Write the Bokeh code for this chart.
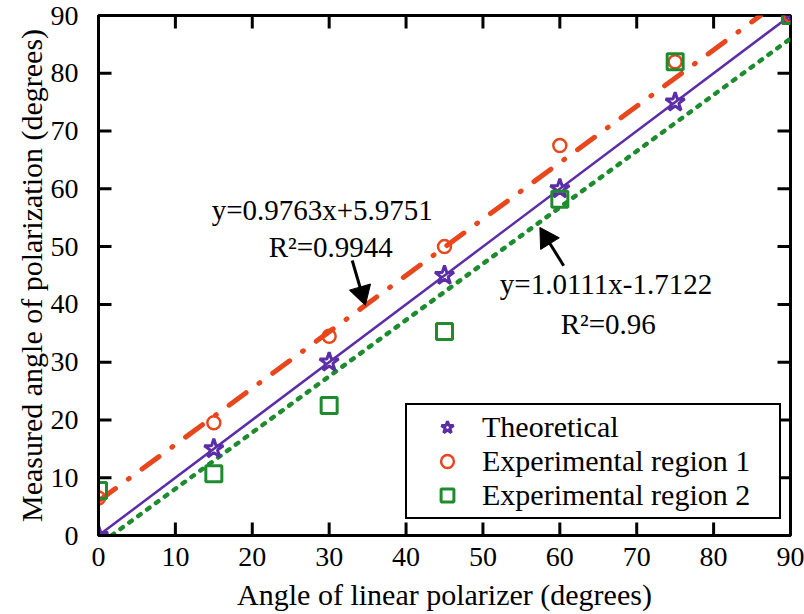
import math
from bokeh.plotting import figure
from bokeh.models import Legend, LegendItem, FixedTicker, Range1d
from bokeh.core.properties import value
from bokeh.embed import file_html
from bokeh.resources import INLINE

# ---- data ----
angles = [0, 15, 30, 45, 60, 75, 90]
theoretical = [0, 15, 30, 45, 60, 75, 90]
region1 = [6.5, 19.5, 34.5, 50.0, 67.5, 82.0, 90.0]
region2 = [7.8, 10.7, 22.5, 35.3, 58.2, 82.0, 90.0]

theo_line_x = [0, 90]
theo_line_y = [0, 90]
fit1_x = [0, 86.1]
fit1_y = [5.9751, 90]
fit2_x = [1.7, 90]
fit2_y = [0, 86.0]

ticks = [0, 10, 20, 30, 40, 50, 60, 70, 80, 90]

ann_text = ["y=0.9763x+5.9751", "R\u00b2=0.9944", "y=1.0111x-1.7122", "R\u00b2=0.96"]
ann_x = [29.1, 30.2, 66.0, 66.3]
ann_y = [56.4, 50.0, 43.6, 36.6]

arrow_x0 = [33.0, 60.5]
arrow_y0 = [47.6, 46.7]
arrow_x1 = [34.6, 57.6]
arrow_y1 = [40.3, 52.9]

PURPLE = "#5B2DA6"
RED = "#E8461C"
GREEN = "#1E8C2E"
FONT = "Liberation Serif"
FS = "30px"
FS_TICK = "28px"
FS_ANN = "29px"

XMIN, XMAX, YMIN, YMAX = 0, 90, 0, 90
FRAME_W, FRAME_H = 692, 520
TICK_LEN = 13
HEAD = 22

p = figure(width=804, height=614, output_backend="svg", toolbar_location=None,
           x_range=Range1d(XMIN, XMAX), y_range=Range1d(YMIN, YMAX),
           min_border_left=98, min_border_right=14, min_border_top=15,
           min_border_bottom=79, background_fill_color="white",
           border_fill_color="white", outline_line_color="black",
           outline_line_width=3, outline_line_alpha=1.0)
p.grid.visible = False

for ax in (p.xaxis[0], p.yaxis[0]):
    ax.ticker = FixedTicker(ticks=ticks)
    ax.axis_line_width = 3
    ax.axis_line_color = "black"
    ax.major_tick_in = 0
    ax.major_tick_out = 0
    ax.minor_tick_line_color = None
    ax.major_label_text_font = FONT
    ax.major_label_text_font_size = FS_TICK
    ax.major_label_text_color = "black"
    ax.axis_label_text_font = FONT
    ax.axis_label_text_font_size = FS
    ax.axis_label_text_font_style = "normal"
    ax.axis_label_text_color = "black"
p.xaxis[0].major_label_standoff = 12
p.xaxis[0].axis_label_standoff = 9
p.yaxis[0].major_label_standoff = 20
p.yaxis[0].axis_label_standoff = 0
p.xaxis[0].axis_label = "Angle of linear polarizer (degrees)"
p.yaxis[0].axis_label = "Measured angle of polarization (degrees)"

# unit conversions (data units per screen pixel)
ux = (XMAX - XMIN) / FRAME_W
uy = (YMAX - YMIN) / FRAME_H

# inward tick marks on all four sides, drawn as dash markers
inner = ticks[1:-1]
n = len(inner)
hx = ux * TICK_LEN / 2
hy = uy * TICK_LEN / 2
tick_style = dict(marker="dash", size=TICK_LEN, line_color="black", line_width=3)
p.scatter(inner + inner, [YMIN + hy] * n + [YMAX - hy] * n, angle=math.pi / 2,
          **tick_style)
p.scatter([XMIN + hx] * n + [XMAX - hx] * n, inner + inner, angle=0, **tick_style)

# lines
p.line(theo_line_x, theo_line_y, line_color=PURPLE, line_width=2.5)
p.line(fit1_x, fit1_y, line_color=RED, line_width=5, line_dash="21 16 1 16",
       line_cap="round")
p.line(fit2_x, fit2_y, line_color=GREEN, line_width=4.5, line_dash="3 8",
       line_cap="round")

# markers
r_t = p.scatter(angles, theoretical, marker="star", size=20, fill_color=None,
                line_color=PURPLE, line_width=3)
r_1 = p.scatter(angles, region1, marker="circle", size=13, fill_color=None,
                line_color=RED, line_width=2.5)
r_2 = p.scatter(angles, region2, marker="square", size=16, fill_color=None,
                line_color=GREEN, line_width=3)

# annotation texts
p.text(ann_x, ann_y, text=ann_text, text_font=value(FONT), text_font_size=FS_ANN,
       text_align="center", text_baseline="alphabetic", text_color="black")

# arrows: body segment + triangular head
head_x, head_y, head_ang, body_x1, body_y1 = [], [], [], [], []
for x0, y0, x1, y1 in zip(arrow_x0, arrow_y0, arrow_x1, arrow_y1):
    dxp = (x1 - x0) / ux
    dyp = (y1 - y0) / uy
    L = math.hypot(dxp, dyp)
    ex, ey = dxp / L, dyp / L
    back = HEAD * 0.45
    head_x.append(x1 - ex * back * ux)
    head_y.append(y1 - ey * back * uy)
    head_ang.append(math.atan2(ey, ex) - math.pi / 2)
    body_x1.append(x1 - ex * HEAD * 0.6 * ux)
    body_y1.append(y1 - ey * HEAD * 0.6 * uy)
p.segment(x0=arrow_x0, y0=arrow_y0, x1=body_x1, y1=body_y1, line_color="black",
          line_width=3)
p.scatter(head_x, head_y, marker="triangle", size=HEAD, angle=head_ang,
          fill_color="black", line_color="black", line_width=1)

legend = Legend(items=[LegendItem(label="Theoretical", renderers=[r_t]),
                       LegendItem(label="Experimental region 1", renderers=[r_1]),
                       LegendItem(label="Experimental region 2", renderers=[r_2])],
                location=(307, 16), margin=0, padding=5, spacing=0,
                glyph_width=70, glyph_height=32, label_height=32, label_width=292,
                label_standoff=0, label_text_font=FONT, label_text_font_size=FS,
                label_text_color="black", border_line_color="black",
                border_line_alpha=1.0, border_line_width=2.5,
                background_fill_color="white", background_fill_alpha=1.0)
p.add_layout(legend, "center")

open("out.html", "w").write(file_html(p, INLINE))
